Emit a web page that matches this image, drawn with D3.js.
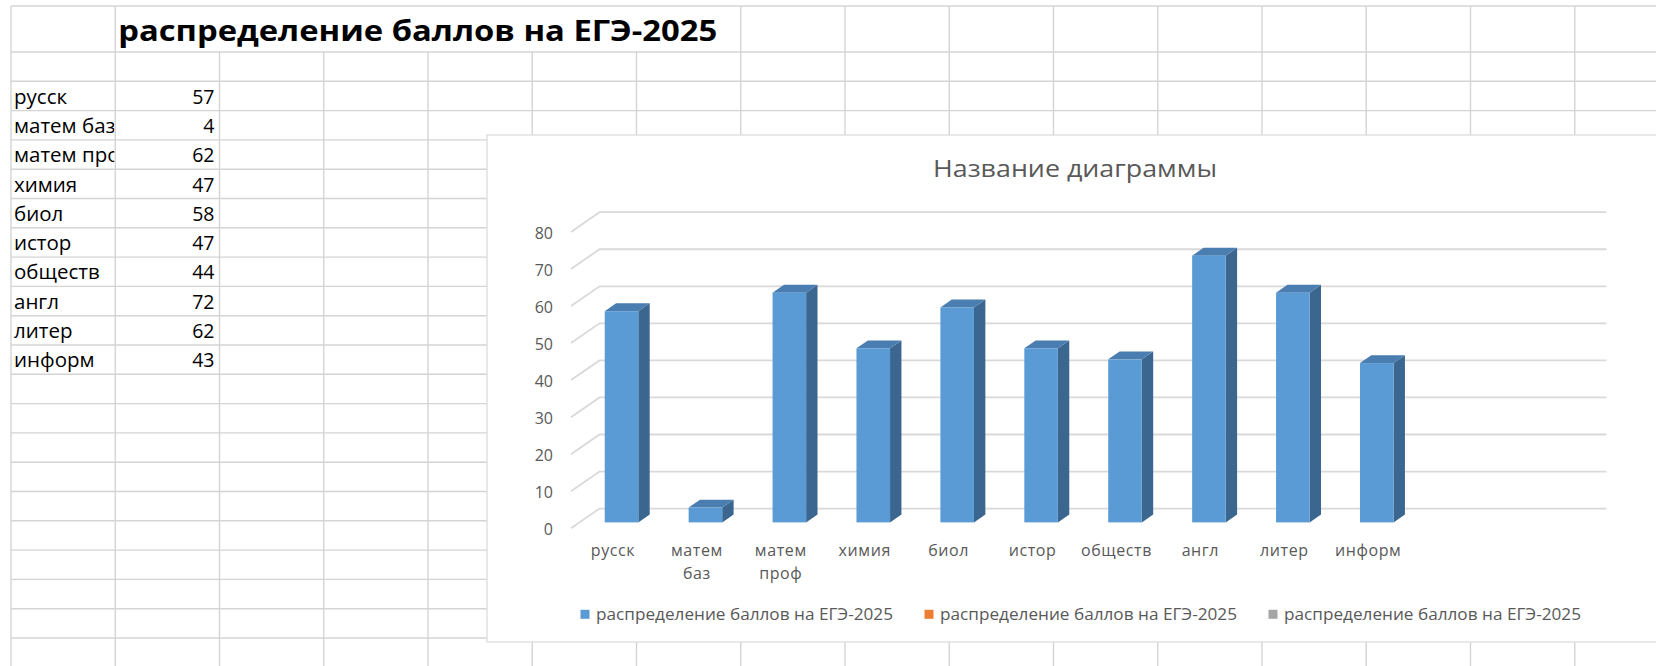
<!DOCTYPE html>
<html>
<head>
<meta charset="utf-8">
<script src="https://cdn.jsdelivr.net/npm/d3@7"></script>
<style>
  html, body { margin: 0; padding: 0; background: #fff; }
  svg { display: block; }
</style>
</head>
<body>
<div id="chart"></div>
<script>
// ---------------- data ----------------
const sheetTitle = "распределение баллов на ЕГЭ-2025";
const categories = ["русск", "матем баз", "матем проф", "химия", "биол", "истор", "обществ", "англ", "литер", "информ"];
const values = [57, 4, 62, 47, 58, 47, 44, 72, 62, 43];
const yTicks = [0, 10, 20, 30, 40, 50, 60, 70, 80];
const chartTitle = "Название диаграммы";
const seriesNames = ["распределение баллов на ЕГЭ-2025", "распределение баллов на ЕГЭ-2025", "распределение баллов на ЕГЭ-2025"];
const seriesColors = ["#5B9BD5", "#ED7D31", "#A5A5A5"];
const categorySlots = 12; // data range includes two empty rows

// ---------------- layout ----------------
const W = 1656, H = 666;
const svg = d3.select("#chart").append("svg").attr("width", W).attr("height", H);
const font = "'Open Sans', 'Noto Sans', sans-serif";

// spreadsheet grid
const colX0 = 11, colW = 104.25, nCols = 16;
const rowY0 = 6, headerH = 46, rowH = 29.3;
const rowLines = [rowY0];
for (let y = rowY0 + headerH; y <= H + 1; y += rowH) rowLines.push(y);
const colLines = d3.range(nCols).map(k => colX0 + k * colW);

const grid = svg.append("g").attr("stroke", "#d4d4d4").attr("stroke-width", 1.4);
grid.selectAll("line.h").data(rowLines).join("line")
  .attr("x1", colX0).attr("x2", W).attr("y1", d => d).attr("y2", d => d);
grid.selectAll("line.v").data(colLines).join("line")
  .attr("x1", d => d).attr("x2", d => d)
  .attr("y1", (d, k) => (k >= 2 && k <= 6) ? rowY0 + headerH : rowY0)
  .attr("y2", H);

// sheet title (cell B1)
svg.append("text")
  .attr("x", colX0 + colW + 3).attr("y", 41)
  .attr("font-family", font).attr("font-weight", 700).attr("font-size", 28)
  .attr("fill", "#000")
  .attr("textLength", 599).attr("lengthAdjust", "spacingAndGlyphs")
  .text(sheetTitle);

// sheet data cells
svg.append("clipPath").attr("id", "colA")
  .append("rect").attr("x", colX0).attr("y", 0).attr("width", colW - 1).attr("height", H);
const firstDataTop = rowY0 + headerH + rowH;
const cells = svg.append("g").attr("font-family", font).attr("fill", "#000");
cells.append("g").attr("clip-path", "url(#colA)").attr("font-size", 20.5)
  .selectAll("text").data(categories).join("text")
  .attr("x", colX0 + 3)
  .attr("y", (d, i) => firstDataTop + rowH * (i + 1) - 7)
  .text(d => d);
cells.append("g").attr("font-size", 19.5)
  .selectAll("text").data(values).join("text")
  .attr("x", colX0 + 2 * colW - 5)
  .attr("y", (d, i) => firstDataTop + rowH * (i + 1) - 7)
  .attr("text-anchor", "end")
  .text(d => d);

// ---------------- chart ----------------
const box = { x: 487, y: 135, w: 1300, h: 507 };
svg.append("rect").attr("x", box.x).attr("y", box.y).attr("width", box.w).attr("height", box.h)
  .attr("fill", "#fff").attr("stroke", "#d9d9d9").attr("stroke-width", 1.2);

svg.append("text")
  .attr("x", 1075).attr("y", 177)
  .attr("text-anchor", "middle")
  .attr("font-family", font).attr("font-size", 23).attr("fill", "#595959")
  .attr("textLength", 284).attr("lengthAdjust", "spacingAndGlyphs")
  .text(chartTitle);

// 3D oblique projection
const depthDx = 28.5, depthDy = -19.7;
const x = d3.scaleBand().domain(d3.range(categorySlots)).range([571, 1578]).paddingInner(0).paddingOuter(0);
const y = d3.scaleLinear().domain([0, 80]).range([528.3, 231.9]);

// gridlines: left wall diagonal + back wall horizontal
svg.append("g").attr("fill", "none").attr("stroke", "#d9d9d9").attr("stroke-width", 1.8)
  .selectAll("path").data(yTicks).join("path")
  .attr("d", t => `M${x.range()[0]},${y(t)}L${x.range()[0] + depthDx},${y(t) + depthDy}L${x.range()[1] + depthDx},${y(t) + depthDy}`);

// y-axis labels
svg.append("g").attr("font-family", font).attr("font-size", 16).attr("fill", "#595959")
  .selectAll("text").data(yTicks).join("text")
  .attr("x", 553).attr("y", t => y(t) + 1)
  .attr("text-anchor", "end").attr("dominant-baseline", "central")
  .text(t => t);

// bars
const gap = 1.5;
const barW = x.bandwidth() / (1 + gap);
const d0 = 0.3, d1 = 0.7;
const bars = svg.append("g").selectAll("g").data(values).join("g");
const geom = (v, i) => {
  const cx = x(i) + x.bandwidth() / 2;
  const xf = cx - barW / 2 + d0 * depthDx;
  const yt = y(v) + d0 * depthDy;
  const yb = y(0) + d0 * depthDy;
  const ddx = (d1 - d0) * depthDx, ddy = (d1 - d0) * depthDy;
  return { xf, yt, yb, ddx, ddy };
};
bars.append("polygon").attr("fill", "#3B6690")
  .attr("points", (v, i) => { const g = geom(v, i);
    return [[g.xf + barW, g.yt], [g.xf + barW + g.ddx, g.yt + g.ddy], [g.xf + barW + g.ddx, g.yb + g.ddy], [g.xf + barW, g.yb]].join(" "); });
bars.append("polygon").attr("fill", "#4A7DB0")
  .attr("points", (v, i) => { const g = geom(v, i);
    return [[g.xf, g.yt], [g.xf + barW, g.yt], [g.xf + barW + g.ddx, g.yt + g.ddy], [g.xf + g.ddx, g.yt + g.ddy]].join(" "); });
bars.append("rect").attr("fill", "#5B9BD5")
  .attr("x", (v, i) => geom(v, i).xf)
  .attr("y", (v, i) => geom(v, i).yt)
  .attr("width", barW)
  .attr("height", (v, i) => { const g = geom(v, i); return g.yb - g.yt; });

// category labels
const catG = svg.append("g").attr("font-family", font).attr("font-size", 16).attr("fill", "#595959")
  .attr("letter-spacing", 0.6);
categories.forEach((c, i) => {
  const t = catG.append("text").attr("text-anchor", "middle")
    .attr("x", x(i) + x.bandwidth() / 2).attr("y", 556);
  c.split(" ").forEach((w, j) => {
    t.append("tspan").attr("x", x(i) + x.bandwidth() / 2).attr("dy", j === 0 ? 0 : 23).text(w);
  });
});

// legend
const legX0 = 580.5, legStep = 344, legY = 614.3;
const leg = svg.append("g").attr("font-family", font).attr("font-size", 16).attr("fill", "#595959");
const le = leg.selectAll("g").data(seriesNames).join("g")
  .attr("transform", (d, i) => `translate(${legX0 + i * legStep},${legY})`);
le.append("rect").attr("x", 0).attr("y", -4.5).attr("width", 9).attr("height", 9)
  .attr("fill", (d, i) => seriesColors[i]);
le.append("text").attr("x", 15.5).attr("y", 0).attr("dominant-baseline", "central")
  .attr("textLength", 297).attr("lengthAdjust", "spacingAndGlyphs")
  .text(d => d);
</script>
</body>
</html>
